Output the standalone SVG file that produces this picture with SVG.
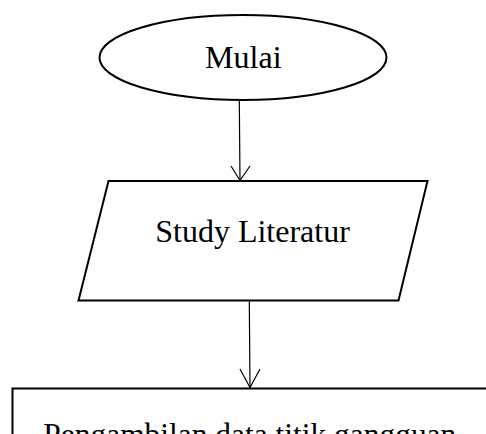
<svg xmlns="http://www.w3.org/2000/svg" width="486" height="434" viewBox="0 0 486 434">
<style>
.shape{fill:#fff;stroke:#000;stroke-width:2}
.conn{fill:none;stroke:#000;stroke-width:1.2}
.t{font-family:"Liberation Serif","Times New Roman",serif;font-size:32px;fill:#000}
</style>
<rect width="486" height="434" fill="#fff"/>
<g id="node-mulai">
<ellipse class="shape" cx="243" cy="57.5" rx="143.5" ry="42.5"/>
<text class="t" x="243.3" y="68.3" text-anchor="middle">Mulai</text>
</g>
<g id="node-study">
<polygon class="shape" points="108.5,181 427.5,181 398.5,300.5 78.5,300.5"/>
<text class="t" x="252.5" y="241.7" text-anchor="middle">Study Literatur</text>
</g>
<g id="node-pengambilan">
<rect class="shape" x="12.5" y="388.5" width="490" height="80"/>
<text class="t" x="43.3" y="445" textLength="413" lengthAdjust="spacingAndGlyphs">Pengambilan data titik gangguan</text>
</g>
<g id="connectors">
<path class="conn" d="M239.3,100 L240,180.5"/>
<path class="conn" d="M231,166 L240,180.5 L250,166"/>
<path class="conn" d="M249.3,301.5 L250,387.5"/>
<path class="conn" d="M240,369 L250,387.5 L260,369"/>
</g>
</svg>
